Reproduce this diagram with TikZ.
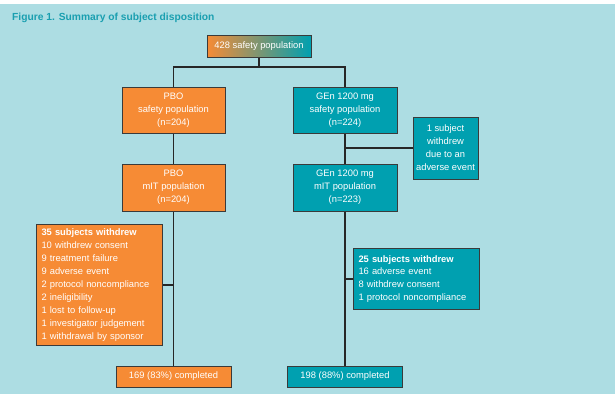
\documentclass[tikz,border=0pt]{standalone}
\usepackage{fontspec}
\setmainfont{Liberation Sans}
\definecolor{bgblue}{HTML}{ADDDE3}
\definecolor{pboorange}{HTML}{F68B35}
\definecolor{genteal}{HTML}{00A0B0}
\definecolor{titleteal}{HTML}{1A9FB0}
\definecolor{boxline}{HTML}{3A3A3A}

\begin{document}
\begin{tikzpicture}[x=1bp, y=-1bp,
  box/.style={rectangle, draw=boxline, line width=1bp, text=white, align=center, font=\fontsize{9.4}{13}\selectfont, inner sep=0pt},
  pbo/.style={box, fill=pboorange},
  gen/.style={box, fill=genteal},
  list/.style={align=left, anchor=north west, inner xsep=5bp, inner ysep=4.5bp, text width=116bp},
  link/.style={draw=black!85, line width=1.8bp}]

% background
\fill[bgblue] (0,0) rectangle (615,394);
\fill[white] (0,0) rectangle (615,4);
\useasboundingbox (0,0) rectangle (615,394);

\node (title) [anchor=west, inner sep=0pt, text=titleteal, font=\bfseries\fontsize{10.3}{12}\selectfont] at (12,18) {Figure 1. Summary of subject disposition};

\node (total) [box, left color=pboorange, right color=genteal, minimum width=104bp, minimum height=22bp] at (259,46) {428 safety population};
\coordinate (split) at (259,67);

% placebo arm
\node (pbosafe) [pbo, minimum width=103bp, minimum height=46bp] at (173.5,110) {PBO\\safety population\\(n=204)};
\node (pbomit) [pbo, minimum width=103bp, minimum height=47bp] at (173.5,187.5) {PBO\\mIT population\\(n=204)};
\node (pbowd) [pbo, list] at (36,224) {\textbf{35 subjects withdrew}\\10 withdrew consent\\9 treatment failure\\9 adverse event\\2 protocol noncompliance\\2 ineligibility\\1 lost to follow-up\\1 investigator judgement\\1 withdrawal by sponsor};
\node (pbodone) [pbo, minimum width=115bp, minimum height=21bp] at (173.5,376.5) {169 (83\%) completed};

% GEn arm
\node (gensafe) [gen, minimum width=104bp, minimum height=46bp] at (345,110) {GEn 1200 mg\\safety population\\(n=224)};
\node (sidewd) [gen, minimum width=65bp, minimum height=62bp] at (445.5,148) {1 subject\\withdrew\\due to an\\adverse event};
\node (genmit) [gen, minimum width=104bp, minimum height=47bp] at (345,187.5) {GEn 1200 mg\\mIT population\\(n=223)};
\node (genwd) [gen, list, minimum height=61bp] at (353,248) {\textbf{25 subjects withdrew}\\16 adverse event\\8 withdrew consent\\1 protocol noncompliance};
\node (gendone) [gen, minimum width=115bp, minimum height=21bp] at (345,376.5) {198 (88\%) completed};

\draw[link] (total.south) -- (split);
\draw[link] (split) -| (pbosafe.north);
\draw[link] (split) -| (gensafe.north);
\draw[link] (pbosafe) -- (pbomit);
\draw[link] (pbomit) -- (pbodone);
\draw[link] (pbowd.east) -- (pbowd.east -| pbomit.south);
\draw[link] (gensafe) -- (genmit);
\draw[link] (sidewd.west) -- (sidewd.west -| gensafe.south);
\draw[link] (genmit) -- (gendone);
\draw[link] (genwd.west) -- (genwd.west -| genmit.south);

\end{tikzpicture}
\end{document}
